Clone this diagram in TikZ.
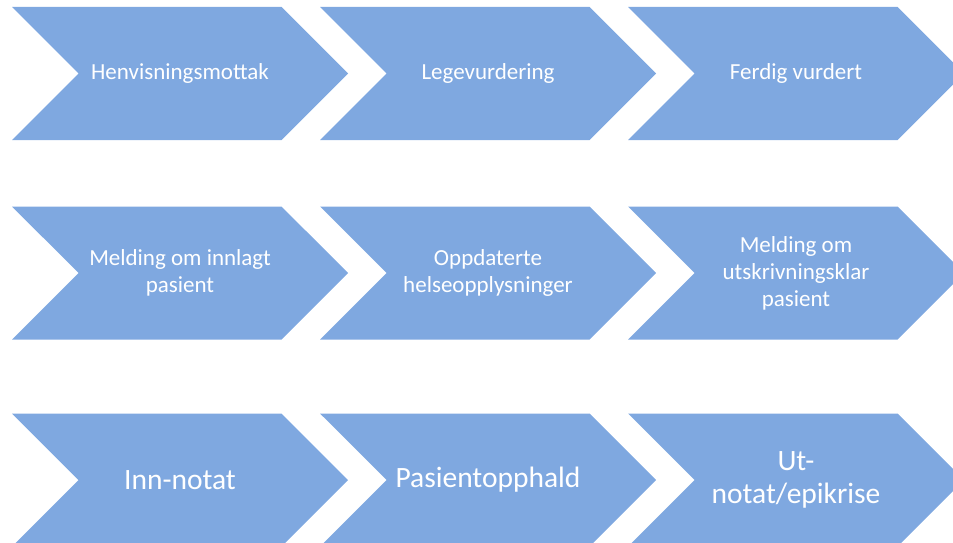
\documentclass[tikz,border=0pt]{standalone}
\usepackage{fontspec}
\setmainfont{Carlito}
\usetikzlibrary{shapes.symbols}
\definecolor{chevblue}{RGB}{127,168,224}

\begin{document}
\begin{tikzpicture}[x=1pt, y=-1pt,
  chev/.style={signal, signal to=east, signal from=west, signal pointer angle=90,
               fill=chevblue, draw=none, text=white, align=center, inner sep=0pt,
               minimum width=336pt, minimum height=133pt,
               font=\fontsize{23}{27}\selectfont},
  chevbig/.style={chev, font=\fontsize{29.5}{33}\selectfont}
]
\useasboundingbox (0,0) rectangle (953,543);
\clip (0,0) rectangle (953,543);
% ----- row 1: referral -----
\node[chev] (henv) at (180,73.5) {Henvisningsmottak};
\node[chev] (lege) at (488,73.5) {Legevurdering};
\node[chev] (ferdig) at (796,73.5) {Ferdig vurdert};
% ----- row 2: admission messages -----
\node[chev] (innlagt) at (180,273) {Melding om innlagt\\pasient};
\node[chev] (helse) at (488,273) {Oppdaterte\\helseopplysninger};
\node[chev] (utskr) at (796,273) {Melding om\\utskrivningsklar\\pasient};
% ----- row 3: notes -----
\node[chevbig] (inn) at (180,480) {Inn-notat};
\node[chevbig] (opph) at (488,480) {Pasientopphald};
\node[chevbig] (ut) at (796,480) {Ut-\\notat/epikrise};
\end{tikzpicture}
\end{document}
